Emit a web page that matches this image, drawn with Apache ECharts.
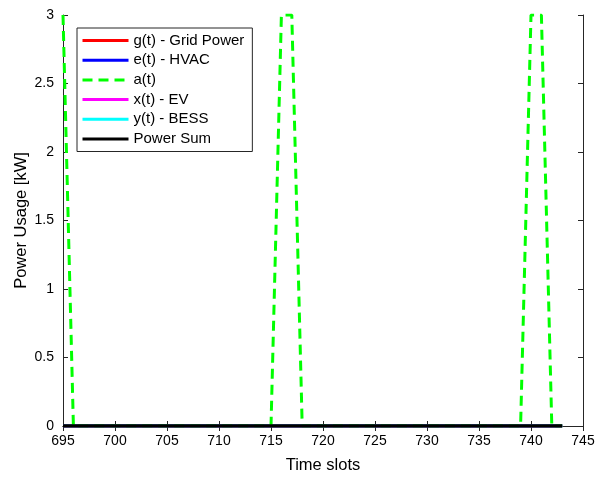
<!DOCTYPE html>
<html><head><meta charset="utf-8">
<script src="https://cdn.jsdelivr.net/npm/echarts@6/dist/echarts.min.js"></script>
<style>html,body{margin:0;padding:0;background:#fff}#c{width:599px;height:478px}</style>
</head><body><div id="c"></div>
<script>
const slots = [];
for (let t = 695; t <= 743; t++) slots.push(t);
const gridPower = [0,0,0,0,0,0,0,0,0,0,0,0,0,0,0,0,0,0,0,0,0,0,0,0,0,0,0,0,0,0,0,0,0,0,0,0,0,0,0,0,0,0,0,0,0,0,0,0,0];
const hvac      = [0,0,0,0,0,0,0,0,0,0,0,0,0,0,0,0,0,0,0,0,0,0,0,0,0,0,0,0,0,0,0,0,0,0,0,0,0,0,0,0,0,0,0,0,0,0,0,0,0];
// a(t): 695..743
const aT        = [3,0,0,0,0,0,0,0,0,0,0,0,0,0,0,0,0,0,0,0,0,3,3,0,0,0,0,0,0,0,0,0,0,0,0,0,0,0,0,0,0,0,0,0,0,3,3,0,0];
const ev        = [0,0,0,0,0,0,0,0,0,0,0,0,0,0,0,0,0,0,0,0,0,0,0,0,0,0,0,0,0,0,0,0,0,0,0,0,0,0,0,0,0,0,0,0,0,0,0,0,0];
const bess      = [0,0,0,0,0,0,0,0,0,0,0,0,0,0,0,0,0,0,0,0,0,0,0,0,0,0,0,0,0,0,0,0,0,0,0,0,0,0,0,0,0,0,0,0,0,0,0,0,0];
const powerSum  = [0,0,0,0,0,0,0,0,0,0,0,0,0,0,0,0,0,0,0,0,0,0,0,0,0,0,0,0,0,0,0,0,0,0,0,0,0,0,0,0,0,0,0,0,0,0,0,0,0];
const seriesNames = ['g(t) - Grid Power','e(t) - HVAC','a(t)','x(t) - EV','y(t) - BESS','Power Sum'];
const xTicks = [695,700,705,710,715,720,725,730,735,740,745];
const yTicks = [0,0.5,1,1.5,2,2.5,3];

const font = 'Liberation Sans, Arial, Helvetica, sans-serif';
const axisCol = '#262626';
function pairs(arr){ return slots.map((s,i)=>[s,arr[i]]); }
function mk(name, data, color, dashed){
  return {name, type:'line', data:pairs(data), symbol:'none', showSymbol:false,
    lineStyle:{color, width: name==='Power Sum'?3.5:3, type: dashed?[10,6]:'solid'},
    itemStyle:{color}, animation:false, z: name==='Power Sum'?5:(dashed?3:2)};
}
const chart = echarts.init(document.getElementById('c'), null, {renderer:'canvas'});
const commonX = {type:'value', min:695, max:745, interval:5};
const commonY = {type:'value', min:0, max:3, interval:0.5};
chart.setOption({
  animation:false,
  backgroundColor:'#fff',
  grid:{left:63, right:16, top:15, bottom:52, containLabel:false, outerBoundsMode:'none'},
  xAxis:[
    Object.assign({}, commonX, {position:'bottom', name:'Time slots', nameLocation:'middle', nameGap:31, nameMoveOverlap:false,
      nameTextStyle:{fontFamily:font, fontSize:16.5, color:'#000'},
      axisLine:{lineStyle:{color:axisCol, width:1}}, axisTick:{inside:true, length:5, lineStyle:{color:axisCol}},
      axisLabel:{fontFamily:font, fontSize:14, color:'#000', margin:8, formatter:v=>xTicks.includes(v)?String(v):''},
      splitLine:{show:false}}),
    Object.assign({}, commonX, {position:'top', axisLine:{lineStyle:{color:axisCol}}, axisTick:{inside:true, length:5, lineStyle:{color:axisCol}},
      axisLabel:{show:false}, splitLine:{show:false}})
  ],
  yAxis:[
    Object.assign({}, commonY, {position:'left', name:'Power Usage [kW]', nameLocation:'middle', nameGap:33, nameMoveOverlap:false,
      nameTextStyle:{fontFamily:font, fontSize:16.5, color:'#000'},
      axisLine:{lineStyle:{color:axisCol}}, axisTick:{inside:true, length:5, lineStyle:{color:axisCol}},
      axisLabel:{fontFamily:font, fontSize:14, color:'#000', margin:9, formatter:v=>yTicks.includes(v)?String(v):''},
      splitLine:{show:false}}),
    Object.assign({}, commonY, {position:'right', axisLine:{show:true, lineStyle:{color:axisCol}}, axisTick:{inside:true, length:5, lineStyle:{color:axisCol}},
      axisLabel:{show:false}, splitLine:{show:false}})
  ],
  legend:{orient:'vertical', left:77, top:28, data:seriesNames, itemWidth:46, itemHeight:14, itemGap:4.7,
    backgroundColor:'#fff', borderColor:'#262626', borderWidth:1, borderRadius:0, padding:[5,8,5,4],
    itemStyle:{opacity:0}, lineStyle:{width:3},
    textStyle:{fontFamily:font, fontSize:15, color:'#000'}, selectedMode:false},
  series:[
    mk(seriesNames[0], gridPower, '#ff0000'),
    mk(seriesNames[1], hvac, '#0000ff'),
    mk(seriesNames[2], aT, '#00ff00', true),
    mk(seriesNames[3], ev, '#ff00ff'),
    mk(seriesNames[4], bess, '#00ffff'),
    mk(seriesNames[5], powerSum, '#000000')
  ]
});
</script></body></html>
